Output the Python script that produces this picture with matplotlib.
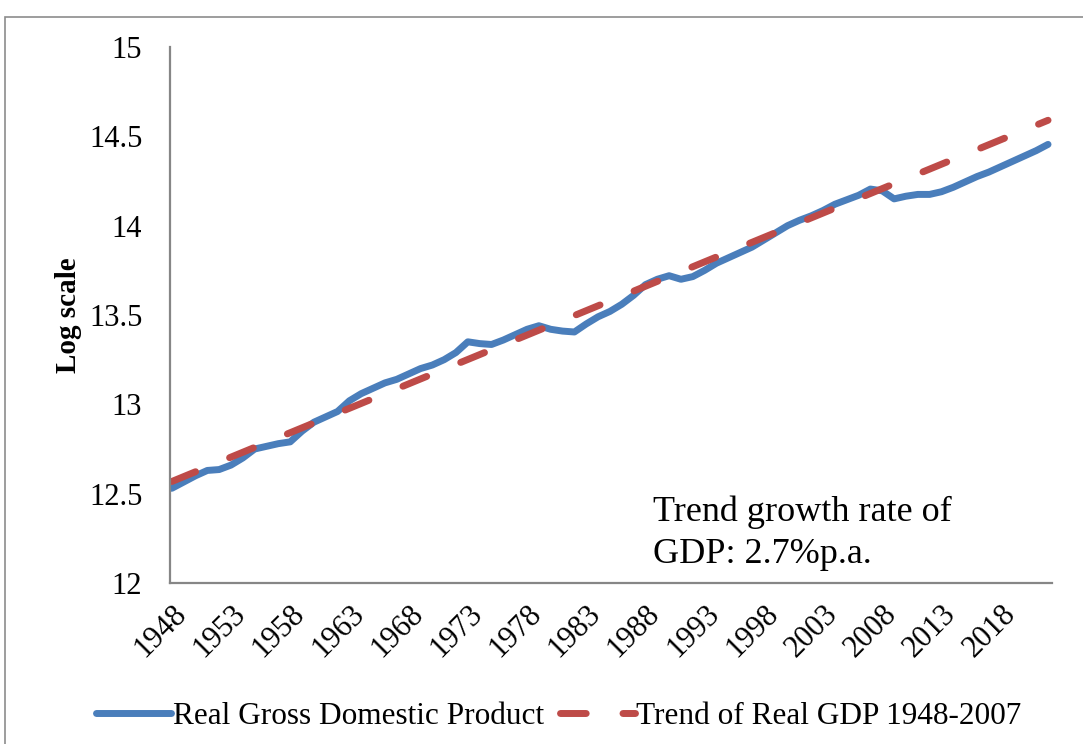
import matplotlib
matplotlib.use("Agg")
import matplotlib.pyplot as plt
from matplotlib.patches import Rectangle

# data (log of real GDP)
years = list(range(1948, 2023))
real_gdp = [12.53, 12.565, 12.60, 12.63, 12.635, 12.66, 12.70, 12.75, 12.765, 12.78,
            12.79, 12.85, 12.90, 12.93, 12.96, 13.02, 13.06, 13.09, 13.12, 13.14,
            13.17, 13.20, 13.22, 13.25, 13.29, 13.35, 13.34, 13.335, 13.36, 13.39,
            13.42, 13.44, 13.42, 13.41, 13.405, 13.45, 13.49, 13.52, 13.56, 13.61,
            13.67, 13.70, 13.72, 13.70, 13.715, 13.75, 13.79, 13.82, 13.85, 13.88,
            13.92, 13.96, 14.00, 14.03, 14.055, 14.085, 14.12, 14.145, 14.17, 14.205,
            14.195, 14.15, 14.165, 14.175, 14.175, 14.19, 14.215, 14.245, 14.275, 14.30,
            14.33, 14.36, 14.39, 14.42, 14.455]
trend_years = [1948, 2022]
trend_values = [12.568, 14.59]

tick_years = list(range(1948, 2023, 5))
y_ticks = [12, 12.5, 13, 13.5, 14, 14.5, 15]
y_tick_labels = ["12", "12.5", "13", "13.5", "14", "14.5", "15"]

plt.rcParams['font.family'] = ['Liberation Serif', 'DejaVu Serif']

fig = plt.figure(figsize=(10.83, 7.44), dpi=100)
ax = fig.add_axes([0.157, 0.2164, 0.814, 0.7204])

# outer frame of the chart object (runs off the right and bottom edges)
fig.patches.append(Rectangle((5 / 1083, -0.1), 1.2, 1.1 - 17 / 744, transform=fig.transFigure,
                             fill=False, edgecolor='#8c8c8c', linewidth=1.2))

ax.plot(years, real_gdp, color='#4a7ebb', linewidth=5, solid_capstyle='round',
        solid_joinstyle='round', label='Real Gross Domestic Product')
ax.plot(trend_years, trend_values, color='#be4b48', linewidth=5, dashes=(3.7, 5.3),
        dash_capstyle='round', label='Trend of Real GDP 1948-2007')

ax.set_xlim(1947.85, 2022.3)
ax.set_ylim(12, 15)
ax.set_yticks(y_ticks)
ax.set_yticklabels(y_tick_labels)
ax.set_xticks(tick_years)
ax.set_xticklabels([str(y) for y in tick_years], rotation=45, ha='right', va='top',
                   rotation_mode='anchor')
ax.tick_params(axis='both', length=0, labelsize=22)
ax.tick_params(axis='y', pad=20)
ax.tick_params(axis='x', pad=12)

for side in ['top', 'right']:
    ax.spines[side].set_visible(False)
for side in ['left', 'bottom']:
    ax.spines[side].set_color('#868686')
    ax.spines[side].set_linewidth(1.6)

ax.set_ylabel('Log scale', fontsize=21, fontweight='bold', labelpad=5)

ax.text(0.548, 0.022, 'Trend growth rate of\nGDP: 2.7%p.a.', transform=ax.transAxes,
        fontsize=26, ha='left', va='bottom', linespacing=1.38)

fig.legend(loc='lower center', bbox_to_anchor=(0.516, -0.02), ncol=2, frameon=False,
           fontsize=22.5, handlelength=2.4, handletextpad=0.05, columnspacing=0.5)

fig.savefig('out.png', dpi=100)
